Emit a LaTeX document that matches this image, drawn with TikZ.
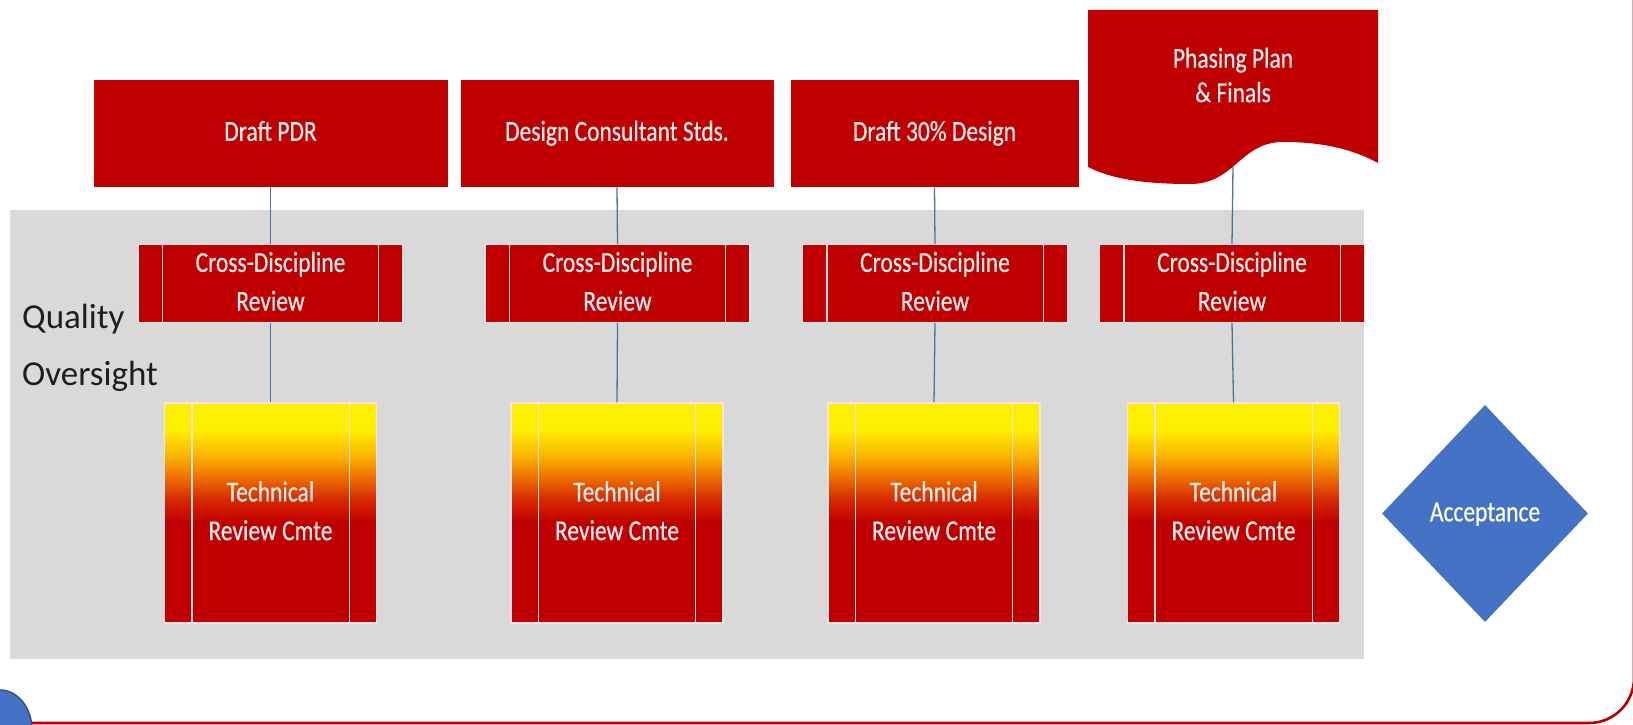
\documentclass[tikz,border=0pt]{standalone}
\usepackage{fontspec}
\usepackage{graphicx}
\setmainfont{Carlito}
\newfontfamily\bxf[FakeBold=0.5]{Carlito}
\usetikzlibrary{shapes.geometric}
\definecolor{boxred}{RGB}{192,0,0}
\definecolor{framered}{RGB}{185,0,0}
\definecolor{bggray}{RGB}{217,217,217}
\definecolor{txtw}{RGB}{255,236,236}
\definecolor{edgew}{RGB}{255,225,225}
\definecolor{conn}{RGB}{79,113,160}
\definecolor{accblue}{RGB}{68,114,196}
\definecolor{accdark}{RGB}{47,82,143}
\definecolor{qtext}{RGB}{30,30,30}
\definecolor{tyel}{RGB}{255,240,0}
\definecolor{tgold}{RGB}{250,180,0}
\definecolor{torg}{RGB}{235,110,0}
\definecolor{tdorg}{RGB}{215,40,0}
\pgfdeclareverticalshading{techgrad}{100bp}{color(0bp)=(boxred); color(48bp)=(boxred); color(53bp)=(tdorg); color(58bp)=(torg); color(63bp)=(tgold); color(69bp)=(tyel); color(100bp)=(tyel)}
\newcommand{\bt}[1]{\scalebox{1}[1.23]{\begin{tabular}{@{}c@{}}#1\end{tabular}}}
\tikzset{
  boxtxt/.style={text=txtw, font=\bxf\fontsize{23.5pt}{31.5pt}\selectfont, inner sep=0pt},
  topbox/.style={rectangle, fill=boxred, draw=white, line width=0.8pt, inner sep=0pt, minimum height=108pt, boxtxt},
  cdbox/.style={rectangle, fill=boxred, draw=edgew, line width=1.2pt, inner sep=0pt, minimum width=265pt, minimum height=74pt, boxtxt},
  techbox/.style={rectangle, shading=techgrad, draw=edgew, line width=1.2pt, inner sep=0pt, minimum width=212pt, minimum height=220pt, boxtxt},
  stripline/.style={draw=edgew, line width=1.2pt},
  conline/.style={draw=conn, line width=1.3pt},
}
\begin{document}
\begin{tikzpicture}[x=1pt,y=-1pt]
\useasboundingbox (0,0) rectangle (1633,725);
\fill[white] (0,0) rectangle (1633,725);
% outer frame
\draw[framered, line width=2.6pt, rounded corners=45pt] (-100,-100) rectangle (1634,723);
\draw[fill=accblue, draw=accdark, line width=1.5pt] (0,730) ellipse [x radius=32pt, y radius=40pt];
% gray band
\fill[bggray] (10,210) rectangle (1364,659);
\node[anchor=base west, align=left, text=qtext, font=\fontsize{35pt}{57pt}\selectfont, inner sep=0pt] (qo) at (22,385) {Quality\\Oversight};

% top boxes
\node[topbox, minimum width=355pt] (t1) at (270.5,133) {\bt{Draft PDR}};
\node[topbox, minimum width=314pt] (t2) at (617,133) {\bt{Design Consultant Stds.}};
\node[topbox, minimum width=289pt] (t3) at (934.5,133) {\bt{Draft 30\% Design}};
\fill[boxred] (1088,10) -- (1378,10) -- (1378,163)
  .. controls (1345,145) and (1310,142) .. (1283,142)
  .. controls (1240,142) and (1235,184) .. (1190,184)
  .. controls (1140,184) and (1110,178) .. (1088,167) -- cycle;
\node[boxtxt, font=\bxf\fontsize{23.5pt}{28pt}\selectfont] (t4) at (1233,78) {\bt{Phasing Plan\\\& Finals}};
\coordinate (t4b) at (1233,166);

% cross-discipline boxes
\node[cdbox] (c1) at (270.5,283.5) {\bt{Cross-Discipline\\Review}};
\node[cdbox] (c2) at (617.5,283.5) {\bt{Cross-Discipline\\Review}};
\node[cdbox] (c3) at (935,283.5) {\bt{Cross-Discipline\\Review}};
\node[cdbox] (c4) at (1232,283.5) {\bt{Cross-Discipline\\Review}};
\foreach \n in {c1,c2,c3,c4}{
  \draw[stripline] ([xshift=25pt]\n.north west) -- ([xshift=25pt]\n.south west);
  \draw[stripline] ([xshift=-25pt]\n.north east) -- ([xshift=-25pt]\n.south east);
}

% technical review boxes
\node[techbox] (r1) at (270.5,513) {\bt{Technical\\Review Cmte}};
\node[techbox] (r2) at (617,513) {\bt{Technical\\Review Cmte}};
\node[techbox] (r3) at (934,513) {\bt{Technical\\Review Cmte}};
\node[techbox] (r4) at (1233.5,513) {\bt{Technical\\Review Cmte}};
\foreach \n in {r1,r2,r3,r4}{
  \draw[stripline] ([xshift=28pt]\n.north west) -- ([xshift=28pt]\n.south west);
  \draw[stripline] ([xshift=-28pt]\n.north east) -- ([xshift=-28pt]\n.south east);
}

% connectors
\draw[conline] (t1.south) -- (c1.north);
\draw[conline] (t2.south) -- (c2.north);
\draw[conline] (t3.south) -- (c3.north);
\draw[conline] (t4b) -- (c4.north);
\draw[conline] (c1.south) -- (r1.north);
\draw[conline] (c2.south) -- (r2.north);
\draw[conline] (c3.south) -- (r3.north);
\draw[conline] (c4.south) -- (r4.north);

% acceptance
\node[diamond, fill=accblue, inner sep=0pt, minimum width=206pt, minimum height=217pt, boxtxt, text=white] (acc) at (1485,513.5) {\bt{Acceptance}};
\end{tikzpicture}
\end{document}
